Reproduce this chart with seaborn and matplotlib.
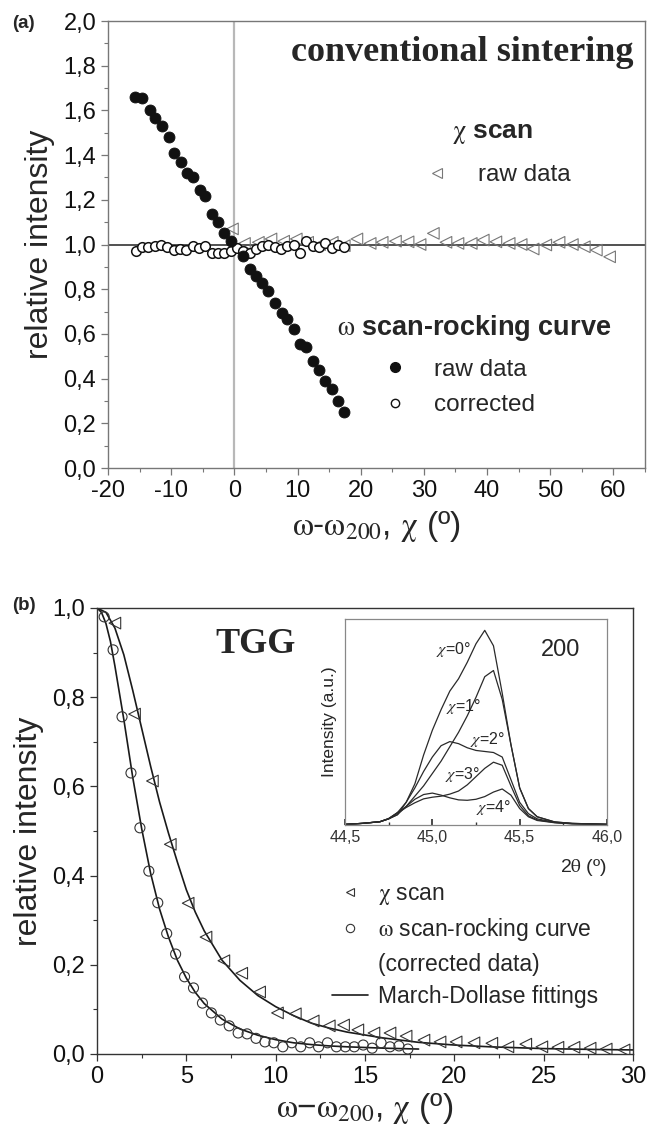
import matplotlib
matplotlib.use("Agg")
import matplotlib.pyplot as plt
import numpy as np
import pandas as pd
import seaborn as sns
from matplotlib.lines import Line2D
from matplotlib.ticker import FuncFormatter, MultipleLocator

# ---------------- panel (a): conventional sintering ----------------
raw_x = [-15.7, -14.6, -13.4, -12.6, -11.5, -10.4, -9.5, -8.5, -7.5, -6.6, -5.5,
         -4.6, -3.5, -2.6, -1.6, -0.5, 1.4, 2.5, 3.5, 4.4, 5.4, 6.5, 7.5, 8.4,
         9.4, 10.4, 11.3, 12.4, 13.4, 14.4, 15.4, 16.4, 17.3]
raw_y = [1.66, 1.655, 1.60, 1.565, 1.53, 1.48, 1.41, 1.37, 1.32, 1.30, 1.245,
         1.215, 1.135, 1.10, 1.05, 1.015, 0.95, 0.89, 0.86, 0.83, 0.79, 0.74,
         0.695, 0.665, 0.62, 0.555, 0.54, 0.48, 0.44, 0.39, 0.355, 0.30, 0.25]

corr_x = [-15.6, -14.6, -13.6, -12.6, -11.6, -10.6, -9.6, -8.6, -7.6, -6.6, -5.6,
          -4.6, -3.6, -2.6, -1.6, -0.6, 0.4, 1.4, 2.4, 3.4, 4.4, 5.4, 6.4, 7.4,
          8.4, 9.4, 10.4, 11.4, 12.4, 13.4, 14.4, 15.4, 16.4, 17.4]
corr_y = [0.97, 0.99, 0.99, 0.995, 1.0, 0.99, 0.975, 0.98, 0.975, 0.995, 0.985,
          0.995, 0.96, 0.96, 0.96, 0.97, 0.985, 0.97, 0.96, 0.98, 0.995, 1.0,
          0.99, 0.98, 0.995, 1.0, 0.96, 1.015, 0.995, 0.99, 1.005, 0.985, 1.0, 0.99]

chi_x = [-0.3, 1.6, 3.8, 5.8, 7.8, 9.8, 11.6, 13.5, 15.5, 17.4, 19.4, 21.5, 23.4,
         25.5, 27.5, 29.4, 31.5, 33.5, 35.4, 37.5, 39.4, 41.4, 43.5, 45.4, 47.3,
         49.3, 51.4, 53.5, 55.4, 57.3, 59.4]
chi_y = [1.07, 1.005, 1.01, 1.025, 1.015, 1.025, 1.01, 1.0, 1.01, 0.995, 1.025,
         1.005, 1.01, 1.015, 1.012, 1.0, 1.05, 1.01, 1.005, 1.005, 1.02, 1.012,
         1.005, 1.0, 0.98, 0.998, 1.01, 1.0, 0.99, 0.975, 0.945]

# ---------------- panel (b): TGG ----------------
tgg_chi_x = [1.0, 2.1, 3.1, 4.1, 5.1, 6.1, 7.1, 8.1, 9.1, 10.1, 11.1, 12.1, 13.0,
             13.8, 14.6, 15.5, 16.4, 17.3, 18.3, 19.2, 20.1, 21.1, 22.1, 23.0,
             24.0, 24.9, 25.8, 26.7, 27.6, 28.5, 29.5]
tgg_chi_y = [0.966, 0.762, 0.612, 0.47, 0.338, 0.262, 0.209, 0.181, 0.139, 0.092,
             0.09, 0.074, 0.063, 0.065, 0.054, 0.047, 0.047, 0.040, 0.031, 0.027,
             0.027, 0.025, 0.024, 0.016, 0.022, 0.016, 0.015, 0.015, 0.013, 0.011,
             0.009]

tgg_om_x = [0.4, 0.9, 1.4, 1.9, 2.4, 2.9, 3.4, 3.9, 4.4, 4.9, 5.4, 5.9, 6.4, 6.9,
            7.4, 7.9, 8.4, 8.9, 9.4, 9.9, 10.4, 10.9, 11.4, 11.9, 12.4, 12.9,
            13.4, 13.9, 14.4, 14.9, 15.4, 15.9, 16.4, 16.9, 17.4]
tgg_om_y = [0.98, 0.906, 0.756, 0.63, 0.507, 0.41, 0.339, 0.27, 0.224, 0.173,
            0.148, 0.114, 0.092, 0.076, 0.063, 0.047, 0.045, 0.035, 0.027, 0.025,
            0.016, 0.025, 0.016, 0.025, 0.016, 0.025, 0.016, 0.016, 0.016, 0.02,
            0.013, 0.025, 0.016, 0.018, 0.011]

fit_chi_x = [0, 0.5, 1, 1.5, 2, 2.5, 3, 3.5, 4, 4.5, 5, 5.5, 6, 7, 8, 9, 10, 11,
             12, 13, 14, 16, 18, 20, 22, 25, 28, 30]
fit_chi_y = [1.0, 0.99, 0.955, 0.895, 0.815, 0.73, 0.645, 0.565, 0.495, 0.43,
             0.368, 0.318, 0.276, 0.21, 0.165, 0.131, 0.106, 0.086, 0.069, 0.058,
             0.049, 0.036, 0.026, 0.020, 0.016, 0.012, 0.010, 0.009]

fit_om_x = [0, 0.25, 0.5, 0.75, 1, 1.25, 1.5, 1.75, 2, 2.5, 3, 3.5, 4, 4.5, 5,
            5.5, 6, 7, 8, 9, 10, 11, 12, 13, 14, 16, 18]
fit_om_y = [1.0, 0.99, 0.965, 0.925, 0.87, 0.81, 0.75, 0.685, 0.62, 0.505, 0.405,
            0.325, 0.262, 0.21, 0.17, 0.138, 0.113, 0.078, 0.056, 0.042, 0.032,
            0.025, 0.021, 0.018, 0.016, 0.013, 0.011]

# ---------------- inset: 200 reflection ----------------
two_theta = [44.5, 44.6, 44.7, 44.75, 44.8, 44.85, 44.9, 44.95, 45.0, 45.05, 45.1,
             45.15, 45.2, 45.25, 45.3, 45.35, 45.4, 45.45, 45.5, 45.55, 45.6,
             45.7, 45.8, 46.0]
prof_chi0 = [0.003, 0.008, 0.016, 0.03, 0.05, 0.11, 0.2, 0.34, 0.46, 0.56, 0.65,
             0.71, 0.79, 0.88, 0.945, 0.87, 0.64, 0.39, 0.18, 0.08, 0.04, 0.015,
             0.008, 0.003]
prof_chi1 = [0.003, 0.008, 0.016, 0.03, 0.05, 0.09, 0.14, 0.19, 0.25, 0.31, 0.38,
             0.45, 0.53, 0.62, 0.72, 0.75, 0.61, 0.39, 0.18, 0.08, 0.04, 0.015,
             0.008, 0.003]
prof_chi2 = [0.003, 0.008, 0.016, 0.032, 0.06, 0.11, 0.18, 0.26, 0.33, 0.385,
             0.405, 0.395, 0.375, 0.362, 0.357, 0.352, 0.33, 0.22, 0.11, 0.055,
             0.03, 0.013, 0.007, 0.003]
prof_chi3 = [0.003, 0.008, 0.016, 0.03, 0.058, 0.085, 0.108, 0.127, 0.135, 0.14,
             0.15, 0.165, 0.195, 0.235, 0.275, 0.305, 0.29, 0.19, 0.095, 0.045,
             0.025, 0.012, 0.006, 0.003]
prof_chi4 = [0.003, 0.008, 0.016, 0.03, 0.06, 0.09, 0.125, 0.148, 0.155, 0.145,
             0.132, 0.122, 0.12, 0.125, 0.138, 0.16, 0.175, 0.145, 0.08, 0.04,
             0.022, 0.011, 0.006, 0.003]
chi_labels = ["0", "1", "2", "3", "4"]

sns.set_theme(style="ticks")
plt.rcParams["font.family"] = ["Liberation Sans", "DejaVu Sans"]
plt.rcParams["mathtext.fontset"] = "stix"
plt.rcParams["axes.unicode_minus"] = False

comma1 = FuncFormatter(lambda v, p: f"{v:.1f}".replace(".", ","))
comma0 = FuncFormatter(lambda v, p: f"{v:.0f}")

fig = plt.figure(figsize=(6.49, 11.3), dpi=100)
ax1 = fig.add_axes([0.1664, 0.5858, 0.8274, 0.3956])
ax2 = fig.add_axes([0.1495, 0.0673, 0.8258, 0.3947])
axin = fig.add_axes([0.5316, 0.2699, 0.4037, 0.1823])

# ---- panel (a)
ax1.axhline(1.0, color="#222222", lw=1.1, zorder=1)
ax1.axvline(0.0, color="#b8b8b8", lw=1.6, zorder=1)
sns.scatterplot(x=chi_x, y=chi_y, ax=ax1, marker="<", s=70, facecolor="none",
                edgecolor="#777777", linewidth=0.8, zorder=2)
sns.scatterplot(x=corr_x, y=corr_y, ax=ax1, marker="o", s=48, facecolor="white",
                edgecolor="#111111", linewidth=1.1, zorder=3)
sns.scatterplot(x=raw_x, y=raw_y, ax=ax1, marker="o", s=62, color="#111111",
                edgecolor="#111111", zorder=4)
ax1.set_xlim(-20, 65)
ax1.set_ylim(0, 2.0)
ax1.xaxis.set_major_locator(MultipleLocator(10))
ax1.xaxis.set_minor_locator(MultipleLocator(5))
ax1.yaxis.set_major_locator(MultipleLocator(0.2))
ax1.yaxis.set_minor_locator(MultipleLocator(0.1))
ax1.yaxis.set_major_formatter(comma1)
ax1.xaxis.set_major_formatter(comma0)
ax1.set_xlabel(r"$\mathrm{\omega}$-$\mathrm{\omega}_{200}$, $\mathrm{\chi}$ (º)",
               fontsize=24, labelpad=5)
ax1.set_ylabel("relative intensity", fontsize=23, labelpad=6)
ax1.text(0.979, 0.93, "conventional sintering", transform=ax1.transAxes,
         ha="right", va="center", fontsize=26, fontweight="bold",
         family="Liberation Serif")
ax1.text(0.64, 0.747, r"$\mathrm{\chi}$ scan", transform=ax1.transAxes, ha="left",
         va="center", fontsize=19, fontweight="bold")
ax1.text(0.426, 0.313, r"$\mathrm{\omega}$ scan-rocking curve", transform=ax1.transAxes,
         ha="left", va="center", fontsize=19.5, fontweight="bold")
h_chi = Line2D([], [], ls="none", marker="<", ms=7, mfc="none", mec="#777777", mew=0.8)
leg1 = ax1.legend([h_chi], ["raw data"], loc="center left",
                  bbox_to_anchor=(0.59, 0.655), frameon=False, fontsize=17.5,
                  handlelength=1.0, handletextpad=1.2, borderpad=0, borderaxespad=0)
ax1.add_artist(leg1)
h_raw = Line2D([], [], ls="none", marker="o", ms=7, mfc="#111111", mec="#111111")
h_corr = Line2D([], [], ls="none", marker="o", ms=6, mfc="white", mec="#111111", mew=1.0)
ax1.legend([h_raw, h_corr], ["raw data", "corrected"], loc="center left",
           bbox_to_anchor=(0.512, 0.18), frameon=False, fontsize=17.5,
           handlelength=1.0, handletextpad=1.1, labelspacing=0.55,
           borderpad=0, borderaxespad=0)

# ---- panel (b)
sns.lineplot(x=fit_chi_x, y=fit_chi_y, ax=ax2, color="#1a1a1a", lw=1.2,
             sort=False, estimator=None, zorder=2)
sns.lineplot(x=fit_om_x, y=fit_om_y, ax=ax2, color="#1a1a1a", lw=1.2,
             sort=False, estimator=None, zorder=2)
sns.scatterplot(x=tgg_chi_x, y=tgg_chi_y, ax=ax2, marker="<", s=70,
                facecolor="none", edgecolor="#333333", linewidth=0.8, zorder=3)
sns.scatterplot(x=tgg_om_x, y=tgg_om_y, ax=ax2, marker="o", s=52,
                facecolor="none", edgecolor="#333333", linewidth=0.8, zorder=3)
ax2.set_xlim(0, 30)
ax2.set_ylim(0, 1.0)
ax2.xaxis.set_major_locator(MultipleLocator(5))
ax2.xaxis.set_minor_locator(MultipleLocator(2.5))
ax2.yaxis.set_major_locator(MultipleLocator(0.2))
ax2.yaxis.set_minor_locator(MultipleLocator(0.1))
ax2.yaxis.set_major_formatter(comma1)
ax2.xaxis.set_major_formatter(comma0)
ax2.set_xlabel(r"$\mathrm{\omega}$−$\mathrm{\omega}_{200}$, $\mathrm{\chi}$ (º)",
               fontsize=24, labelpad=2)
ax2.set_ylabel("relative intensity", fontsize=23, labelpad=6)
ax2.text(0.295, 0.917, "TGG", transform=ax2.transAxes, ha="center", va="center",
         fontsize=26, fontweight="bold", family="Liberation Serif")
hb_chi = Line2D([], [], ls="none", marker="<", ms=6, mfc="none", mec="#333333", mew=0.8)
hb_om = Line2D([], [], ls="none", marker="o", ms=6, mfc="none", mec="#333333", mew=0.8)
hb_blank = Line2D([], [], ls="none")
hb_fit = Line2D([], [], color="#1a1a1a", lw=1.2)
ax2.legend([hb_chi, hb_om, hb_blank, hb_fit],
           [r"$\mathrm{\chi}$ scan", r"$\mathrm{\omega}$ scan-rocking curve",
            "(corrected data)", "March-Dollase fittings"],
           loc="upper left", bbox_to_anchor=(0.438, 0.385), frameon=False,
           fontsize=16.5, handlelength=1.6, handletextpad=0.4, labelspacing=0.4,
           borderpad=0, borderaxespad=0)

# ---- inset
prof = pd.DataFrame({
    "two_theta": two_theta * 5,
    "intensity": prof_chi0 + prof_chi1 + prof_chi2 + prof_chi3 + prof_chi4,
    "chi": [c for c in chi_labels for _ in two_theta],
})
sns.lineplot(data=prof, x="two_theta", y="intensity", hue="chi",
             palette=["#2a2a2a"] * 5, lw=0.9, ax=axin, legend=False,
             sort=False, estimator=None)
axin.set_xlim(44.5, 46.0)
axin.set_ylim(0, 1.0)
axin.set_yticks([])
axin.xaxis.set_major_locator(MultipleLocator(0.5))
axin.xaxis.set_minor_locator(MultipleLocator(0.25))
axin.xaxis.set_major_formatter(FuncFormatter(lambda v, p: f"{v:.1f}".replace(".", ",")))
axin.tick_params(axis="x", which="both", direction="in", labelsize=11.5, colors="#333333")
axin.tick_params(axis="x", which="major", length=4)
axin.tick_params(axis="x", which="minor", length=2.5)
axin.set_xlabel(r"2$\mathrm{\theta}$ (º)", fontsize=14, loc="right", labelpad=9)
axin.set_ylabel("Intensity (a.u.)", fontsize=12.5, labelpad=6)
for sp in axin.spines.values():
    sp.set_color("#888888")
    sp.set_linewidth(0.9)
for lab, (xf, yf) in zip(chi_labels, [(0.412, 0.854), (0.45, 0.573), (0.542, 0.413),
                                      (0.447, 0.243), (0.565, 0.083)]):
    axin.text(xf, yf, rf"$\chi$={lab}°", transform=axin.transAxes, ha="center",
              va="center", fontsize=11.5)
axin.text(0.821, 0.85, "200", transform=axin.transAxes, ha="center", va="center",
          fontsize=17)

for ax, sc in [(ax1, "#777777"), (ax2, "#333333")]:
    for sp in ax.spines.values():
        sp.set_visible(True)
        sp.set_color(sc)
        sp.set_linewidth(1.0)
    ax.tick_params(axis="both", which="major", labelsize=17, length=5, width=0.9,
                   colors=sc, labelcolor="#111111", direction="out")
    ax.tick_params(axis="both", which="minor", length=3, width=0.8, colors=sc,
                   direction="out")

fig.text(12 / 649, 1 - 24 / 1130, "(a)", fontsize=13.5, fontweight="bold",
         ha="left", va="center")
fig.text(12 / 649, 1 - 606 / 1130, "(b)", fontsize=13.5, fontweight="bold",
         ha="left", va="center")

fig.savefig("out.png", dpi=100)
